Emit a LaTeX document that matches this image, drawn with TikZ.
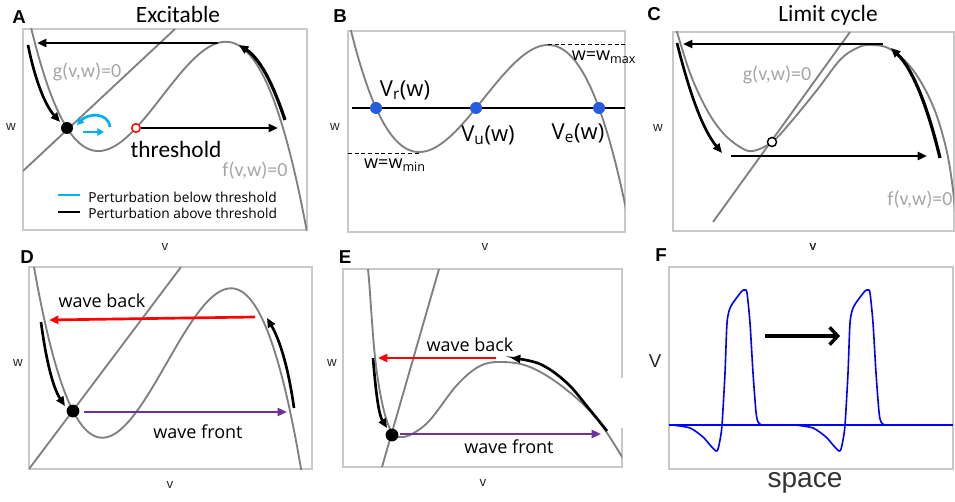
\documentclass[tikz,border=0pt]{standalone}
\usepackage{fontspec}
\setmainfont{Carlito}
\newfontfamily\arialf{Liberation Sans}
\newfontfamily\segoef{Open Sans}
\usetikzlibrary{arrows.meta}
\definecolor{curvegray}{RGB}{128,128,128}
\definecolor{framegray}{RGB}{200,200,200}
\definecolor{lblgray}{RGB}{166,166,166}
\definecolor{cyanA}{RGB}{0,176,240}
\definecolor{purpleW}{RGB}{112,48,160}
\definecolor{dotblue}{RGB}{36,92,224}
\definecolor{pulseblue}{RGB}{0,0,255}
\begin{document}
\begin{tikzpicture}[x=0.75pt,y=-0.75pt,
  panelframe/.style={draw=framegray, line width=0.8pt},
  nullcline/.style={draw=curvegray, line width=1.4pt},
  flow/.style={draw=black, line width=2pt, -{Triangle[length=7pt,width=6pt]}},
  redflow/.style={draw=red, line width=2pt, -{Triangle[length=7pt,width=6pt]}},
  purpleflow/.style={draw=purpleW, line width=1.6pt, -{Triangle[length=7pt,width=6pt]}},
  cyanflow/.style={draw=cyanA, line width=2pt, -{Triangle[length=5pt,width=5.5pt]}},
  dashline/.style={draw=black, line width=0.7pt, dash pattern=on 3pt off 2pt},
  letter/.style={font=\arialf\bfseries\fontsize{14}{16}\selectfont, inner sep=0pt},
  axislbl/.style={font=\arialf\fontsize{10}{12}\selectfont, text=black!85, inner sep=0pt},
  titletext/.style={font=\fontsize{17.5}{20}\selectfont, inner sep=0pt},
  nclbl/.style={font=\fontsize{15}{18}\selectfont, text=lblgray, inner sep=0pt},
  legendtext/.style={font=\segoef\fontsize{10.3}{12}\selectfont, inner sep=0pt, anchor=west},
  blbl/.style={font=\segoef\fontsize{16.5}{19}\selectfont, inner sep=0pt},
  bsmall/.style={font=\segoef\fontsize{13.5}{16}\selectfont, inner sep=0pt},
  wavelbl/.style={font=\segoef\fontsize{13.5}{16}\selectfont, inner sep=0pt},
  pulse/.style={draw=pulseblue, line width=1.2pt}
]
\useasboundingbox (0,0) rectangle (955,502);

% ================= Panel A =================
\draw[panelframe] (23,29) rectangle (307,230);
\begin{scope}
  \clip (23,29) rectangle (307,230);
  \draw[nullcline] plot[domain=20:310, samples=160] (\x, {128 + 105.7*((\x-67)/100)*((\x-136)/100)*((\x-283)/100)});
  \draw[nullcline] (23,171) -- (175,29);
\end{scope}
\coordinate (a1) at (218,43);  \coordinate (a2) at (37,43);
\coordinate (a3) at (28,45);   \coordinate (a4) at (60,122);
\coordinate (a5) at (285,120); \coordinate (a6) at (239,45);
\coordinate (a7) at (141,128); \coordinate (a8) at (278,128);
\draw[flow] (a1) -- (a2);
\draw[flow] (a3) .. controls (35,80) and (45,105) .. (a4);
\draw[flow, line width=2.4pt] (a5) .. controls (275,90) and (262,60) .. (a6);
\draw[flow] (a7) -- (a8);
\coordinate (c1) at (110,127); \coordinate (c2) at (77,125);
\coordinate (c3) at (83,132);  \coordinate (c4) at (104,132);
\draw[cyanflow] (c1) .. controls (108,112) and (88,113) .. (c2);
\draw[cyanflow] (c3) -- (c4);
\fill[black] (67,128) circle[radius=4.5pt] coordinate (dotA);
\draw[red, fill=white, line width=1.1pt] (136,128) circle[radius=3.2pt] coordinate (thrA);
\node[letter] (labA) at (19,17) {A};
\node[titletext] (titleA) at (178,14) {Excitable};
\node[nclbl] (gA) at (87,72) {g(v,w)=0};
\node[nclbl] (fA) at (255,171) {f(v,w)=0};
\node[titletext] (thrtext) at (176,149) {threshold};
\coordinate (l1) at (58,195); \coordinate (l2) at (80,195);
\coordinate (l3) at (58,212); \coordinate (l4) at (80,212);
\draw[cyanA, line width=2pt] (l1) -- (l2);
\draw[black, line width=2pt] (l3) -- (l4);
\node[legendtext] (leg1) at (88,197) {Perturbation below threshold};
\node[legendtext] (leg2) at (88,213) {Perturbation above threshold};
\node[axislbl] (wA) at (11,127) {w};
\node[axislbl] (vA) at (165,247) {v};

% ================= Panel B =================
\draw[panelframe] (348,31) rectangle (625,232);
\begin{scope}
  \clip (348,31) rectangle (625,232);
  \draw[nullcline] plot[domain=345:630, samples=160] (\x, {108 + 99.8*((\x-376)/100)*((\x-476)/100)*((\x-599)/100)});
\end{scope}
\coordinate (h1) at (352,108); \coordinate (h2) at (625,108);
\draw[black, line width=2.2pt] (h1) -- (h2);
\coordinate (d1) at (548,44); \coordinate (d2) at (625,44);
\coordinate (d3) at (348,153); \coordinate (d4) at (420,153);
\draw[dashline] (d1) -- (d2);
\draw[dashline] (d3) -- (d4);
\fill[dotblue] (376,108) circle[radius=4.5pt] coordinate (vr);
\fill[dotblue] (476,108) circle[radius=4.5pt] coordinate (vu);
\fill[dotblue] (599,108) circle[radius=4.5pt] coordinate (ve);
\node[letter] (labB) at (340,16) {B};
\node[blbl] (tvr) at (405,90) {V\textsubscript{r}(w)};
\node[blbl] (tvu) at (488,135) {V\textsubscript{u}(w)};
\node[blbl] (tve) at (578,133) {V\textsubscript{e}(w)};
\node[bsmall] (tmax) at (604,57) {w=w\textsubscript{max}};
\node[bsmall] (tmin) at (395,165) {w=w\textsubscript{min}};
\node[axislbl] (wB) at (335,127) {w};
\node[axislbl] (vB) at (485,247) {v};

% ================= Panel C =================
\draw[panelframe] (673,32) rectangle (954,231);
\begin{scope}
  \clip (673,32) rectangle (954,231);
  \draw[nullcline] plot[smooth, tension=0.6] coordinates {(675,25) (690,73) (707,110) (723,133) (740,147) (753,151) (772,142) (790,123) (817,90) (840,60) (857,48) (870,45) (890,49) (913,70) (933,106) (946,148) (953,190) (957,235)};
  \draw[nullcline] (713,222) -- (850,32);
\end{scope}
\coordinate (e1) at (883,44);  \coordinate (e2) at (683,44);
\coordinate (e3) at (677,43);  \coordinate (e4) at (722,153);
\coordinate (e5) at (731,156); \coordinate (e6) at (927,156);
\coordinate (e7) at (940,158); \coordinate (e8) at (891,48);
\draw[flow] (e1) -- (e2);
\draw[flow] (e3) .. controls (690,95) and (703,130) .. (e4);
\draw[flow] (e5) -- (e6);
\draw[flow, line width=2.4pt] (e7) .. controls (929,112) and (914,70) .. (e8);
\draw[black, fill=white, line width=1.1pt] (772,142) circle[radius=3.4pt] coordinate (fpC);
\node[letter] (labC) at (654,14) {C};
\node[titletext] (titleC) at (828,15) {Limit cycle};
\node[nclbl] (gC) at (777,75) {g(v,w)=0};
\node[nclbl] (fC) at (920,200) {f(v,w)=0};
\node[axislbl] (wC) at (658,128) {w};
\node[axislbl] (vC) at (813,247) {v};

% ================= Panel D =================
\draw[panelframe] (29,267) rectangle (312,469);
\begin{scope}
  \clip (29,267) rectangle (312,469);
  \draw[nullcline] plot[domain=25:315, samples=160] (\x, {411 + 140*((\x-73)/100)*((\x-137)/100)*((\x-290)/100)});
  \draw[nullcline] (29,469) -- (181,267);
\end{scope}
\coordinate (r1) at (255,317); \coordinate (r2) at (49,320);
\coordinate (p1) at (84,412);  \coordinate (p2) at (287,412);
\coordinate (k1) at (41,322);  \coordinate (k2) at (65,406);
\coordinate (k3) at (294,408); \coordinate (k4) at (267,318);
\draw[redflow] (r1) -- (r2);
\draw[purpleflow] (p1) -- (p2);
\draw[flow] (k1) .. controls (46,360) and (53,388) .. (k2);
\draw[flow] (k3) .. controls (289,372) and (281,342) .. (k4);
\fill[black] (73,411) circle[radius=4.8pt] coordinate (dotD);
\node[letter] (labD) at (27,257) {D};
\node[wavelbl] (wbD) at (102,301) {wave back};
\node[wavelbl] (wfD) at (198,432) {wave front};
\node[axislbl] (wD) at (18,363) {w};
\node[axislbl] (vD) at (170,485) {v};

% ================= Panel E =================
\draw[panelframe] (622,378) -- (622,269) -- (343,269) -- (343,467) -- (622,467) -- (622,428);
\begin{scope}
  \clip (343,269) rectangle (622,467);
  \draw[nullcline] plot[smooth, tension=0.6] coordinates {(367,262) (369,280) (375,357) (383,407) (392,433) (400,437) (412,434) (430,420) (457,385) (480,366) (502,362) (530,367) (563,387) (597,419) (625,462)};
  \draw[nullcline] (382,467) -- (439,269);
\end{scope}
\coordinate (s1) at (496,358); \coordinate (s2) at (378,358);
\coordinate (s3) at (400,434); \coordinate (s4) at (601,434);
\coordinate (s5) at (373,358); \coordinate (s6) at (387,428);
\coordinate (s7) at (607,431); \coordinate (s8) at (511,358);
\draw[redflow] (s1) -- (s2);
\draw[purpleflow] (s3) -- (s4);
\draw[flow] (s5) .. controls (376,395) and (379,415) .. (s6);
\draw[flow] plot[smooth, tension=0.6] coordinates {(s7) (590,410) (567,383) (540,364) (s8)};
\fill[black] (392,435) circle[radius=4.8pt] coordinate (dotE);
\node[letter] (labE) at (345,257) {E};
\node[wavelbl] (wbE) at (470,345) {wave back};
\node[wavelbl] (wfE) at (509,447) {wave front};
\node[axislbl] (wE) at (332,363) {w};
\node[axislbl] (vE) at (483,483) {v};

% ================= Panel F =================
\draw[panelframe] (669,267) rectangle (953,469);
\coordinate (b1) at (669,425); \coordinate (b2) at (953,425);
\draw[pulse] (b1) -- (b2);
\foreach \sh in {0,123}{
  \draw[pulse, shift={(\sh,0)}] plot[smooth, tension=0.45] coordinates {(672,425) (690,428) (703,437) (710,445) (716,451) (718,449) (720,440) (722,425) (725,373) (727,323) (730,308) (735,300) (742,291) (745,290) (747,293) (750,323) (753,373) (756,412) (758,422) (762,425) (770,425)};
}
\coordinate (f1) at (765,336); \coordinate (f2) at (840,336);
\draw[black, line width=2.6pt, -{Straight Barb[length=6pt,width=13pt]}] (f1) -- (f2);
\node[letter] (labF) at (661,255) {F};
\node[font=\arialf\fontsize{14}{16}\selectfont, text=black!85, inner sep=0pt] (vF) at (655,361) {V};
\node[font=\arialf\fontsize{21}{24}\selectfont, text=black!80, inner sep=0pt] (spaceF) at (805,483) {space};
\node[axislbl] (vFtop) at (813,247) {v};
\end{tikzpicture}
\end{document}
